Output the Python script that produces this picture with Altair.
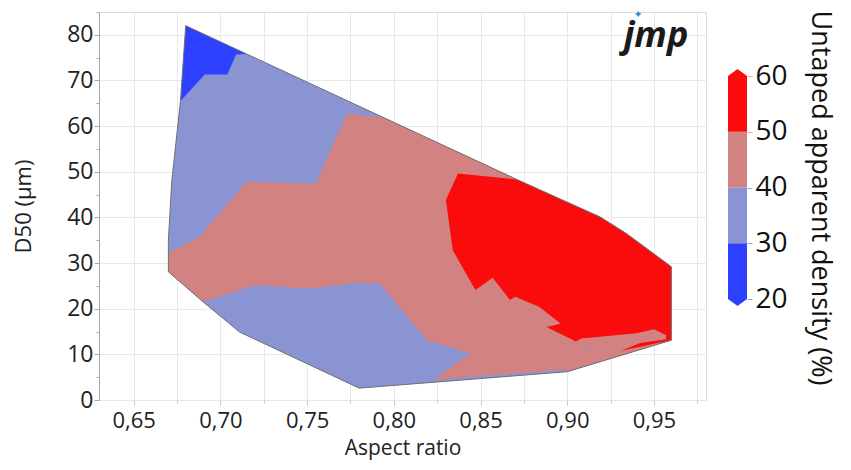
import altair as alt
import pandas as pd

# ---- region outlines (Aspect ratio, D50 in µm) ----
# whole data hull (30-40 band shows where nothing else is on top)
hull_x = [0.680, 0.871, 0.919, 0.934, 0.960, 0.960, 0.900, 0.780, 0.711, 0.690, 0.670, 0.670, 0.672, 0.677]
hull_y = [82.0, 48.3, 40.1, 36.5, 29.2, 13.1, 6.2, 2.6, 14.9, 21.5, 28.1, 35.0, 48.1, 65.6]

# region >= 40
mid_x = [0.794, 0.871, 0.919, 0.934, 0.960, 0.960, 0.900, 0.898, 0.823, 0.844, 0.819, 0.792,
         0.781, 0.750, 0.720, 0.690, 0.670, 0.670, 0.688, 0.715, 0.755, 0.773]
mid_y = [61.9, 48.3, 40.1, 36.5, 29.2, 13.1, 6.2, 6.6, 4.5, 10.2, 13.1, 25.5,
         25.7, 24.4, 25.2, 21.5, 28.1, 32.2, 35.7, 47.8, 47.4, 62.7]

# region >= 50
high_x = [0.837, 0.871, 0.919, 0.934, 0.960, 0.960, 0.931, 0.942, 0.957, 0.957, 0.950, 0.940,
          0.908, 0.905, 0.888, 0.896, 0.895, 0.884, 0.870, 0.867, 0.857, 0.847, 0.834, 0.830]
high_y = [49.6, 48.3, 40.1, 36.5, 29.2, 13.1, 10.8, 12.5, 13.3, 14.2, 15.5, 14.6,
          13.5, 12.8, 16.0, 16.7, 17.1, 20.4, 22.6, 21.9, 26.8, 24.1, 32.8, 43.8]

# region < 30 (top-left corner)
low_x = [0.680, 0.715, 0.709, 0.704, 0.691, 0.677]
low_y = [82.0, 75.8, 75.7, 71.3, 71.3, 65.5]

# small 30-40 speck inside the 40-50 band
speck_x = [0.908, 0.915, 0.912]
speck_y = [10.7, 11.7, 10.9]

# colour bands of the legend
band_lo = [20, 30, 40, 50]
band_hi = [30, 40, 50, 60]
band_edges = [20, 30, 40, 50, 60]
band_colors = ["#2e40ff", "#8b94d2", "#d38282", "#fa0c0c"]

regions = [
    ("hull", hull_x, hull_y, 35),
    ("mid", mid_x, mid_y, 45),
    ("high", high_x, high_y, 55),
    ("low", low_x, low_y, 25),
    ("speck", speck_x, speck_y, 35),
]
rows = []
for name, xs, ys, val in regions:
    for i, (a, b) in enumerate(zip(xs, ys)):
        rows.append({"region": name, "i": i, "ar": a, "d50": b, "density": val})
df = pd.DataFrame(rows)

bands = pd.DataFrame({"lo": band_lo, "hi": band_hi,
                      "mid": [(a + b) / 2 for a, b in zip(band_lo, band_hi)]})
ends_top = pd.DataFrame({"v": [band_edges[-1]]})
ends_bot = pd.DataFrame({"v": [band_edges[0]]})

FONT = "Open Sans"
x_vals = [round(0.65 + 0.025 * k, 3) for k in range(14)]
y_vals = list(range(0, 90, 5))

color_scale = alt.Scale(type="quantize", domain=[band_edges[0], band_edges[-1]],
                        range=band_colors, nice=False, zero=False)

x_enc = alt.X(
    "ar:Q",
    scale=alt.Scale(domain=[0.63, 0.98], nice=False, zero=False),
    axis=alt.Axis(
        title="Aspect ratio",
        values=x_vals,
        labelExpr="round(datum.value*1000) % 50 == 0 ? replace(format(datum.value, '.2f'), '.', ',') : ''",
        tickSize={"condition": {"test": "round(datum.value*1000) % 50 == 0", "value": 5}, "value": 3},
        grid=True,
        gridColor="#e8e8e8",
        domain=False,
        tickColor="#c8c8c8",
        labelFont=FONT, labelFontSize=22, labelColor="#222222", labelPadding=5,
        titleFont=FONT, titleFontSize=21, titleFontWeight="normal", titleColor="#222222",
        titlePadding=6,
    ),
)
y_enc = alt.Y(
    "d50:Q",
    scale=alt.Scale(domain=[0, 85], nice=False, zero=True),
    axis=alt.Axis(
        title="D50 (µm)",
        values=y_vals,
        labelExpr="datum.value % 10 == 0 ? datum.value : ''",
        tickSize={"condition": {"test": "datum.value % 10 == 0", "value": 5}, "value": 3},
        gridOpacity={"condition": {"test": "datum.value % 10 == 0", "value": 1}, "value": 0},
        grid=True,
        gridColor="#e8e8e8",
        domainColor="#a8a8a8",
        tickColor="#a8a8a8",
        labelFont=FONT, labelFontSize=23, labelColor="#222222", labelPadding=1,
        titleFont=FONT, titleFontSize=22, titleFontWeight="normal", titleColor="#222222",
        titlePadding=31,
    ),
)
color_enc = alt.Color("density:Q", scale=color_scale, legend=None)

base = alt.Chart(df).encode(x=x_enc, y=y_enc, order=alt.Order("i:Q"))

layers = []
for name in ["hull", "mid", "high", "low", "speck"]:
    layers.append(
        base.transform_filter(alt.datum.region == name)
        .mark_line(filled=True, interpolate="linear-closed", strokeWidth=0)
        .encode(color=color_enc)
    )
outline = base.transform_filter(alt.datum.region == "hull").mark_line(
    interpolate="linear-closed", color="#707070", strokeWidth=1
)
layers.append(outline)

logo = alt.Chart(pd.DataFrame({"t": ["jmp"]})).mark_text(
    font=FONT, fontSize=36, fontStyle="italic", fontWeight="bold", color="#1a1a1a",
    align="center", baseline="alphabetic"
).encode(x=alt.value(557), y=alt.value(35), text="t:N")
star = alt.Chart(pd.DataFrame({"t": ["✦"]})).mark_text(
    font="DejaVu Sans", fontSize=11, color="#2a8fd8", align="center", baseline="middle"
).encode(x=alt.value(539), y=alt.value(3), text="t:N")
layers += [logo, star]

main = alt.layer(*layers)

# ---- colour bar drawn as its own layer with its own value axis ----
leg_scale = alt.Scale(domain=[band_edges[0], band_edges[-1]], range=[287, 64], nice=False, zero=False)
leg_axis = alt.Axis(
    orient="right", offset=41, values=band_edges, title=None, grid=False, domain=False,
    tickSize=5, tickWidth=1,
    tickColor={"condition": {"test": "datum.value >= 50", "value": "#f5a3a3"},
               "value": "#9aa2ff"},
    labelFont=FONT, labelFontSize=28, labelColor="#111111", labelPadding=3,
)
bar = alt.Chart(bands).mark_rect(strokeWidth=0).encode(
    x=alt.value(629), x2=alt.value(648),
    y=alt.Y("lo:Q", scale=leg_scale, axis=leg_axis), y2="hi:Q",
    color=alt.Color("mid:Q", scale=color_scale, legend=None),
)
tri_up = alt.Chart(ends_top).mark_point(
    shape="M-1,0L0,-0.74L1,0Z", size=361, filled=True, opacity=1, strokeWidth=0
).encode(x=alt.value(638.5), y=alt.Y("v:Q", scale=leg_scale, axis=leg_axis),
         color=alt.Color("v:Q", scale=color_scale, legend=None))
tri_dn = alt.Chart(ends_bot).mark_point(
    shape="M-1,0L0,0.74L1,0Z", size=361, filled=True, opacity=1, strokeWidth=0
).encode(x=alt.value(638.5), y=alt.Y("v:Q", scale=leg_scale, axis=leg_axis),
         color=alt.Color("v:Q", scale=color_scale, legend=None))
legend_layer = alt.layer(bar, tri_up, tri_dn)

chart = alt.layer(main, legend_layer).resolve_scale(y="independent").properties(
    width=607,
    height=388,
    padding={"left": 91, "top": 4, "right": 136, "bottom": 62},
    autosize=alt.AutoSizeParams(type="none"),
    title=alt.TitleParams(
        text="Untaped apparent density (%)", orient="right", anchor="middle", frame="group",
        font=FONT, fontSize=27, fontWeight="normal", color="#111111", offset=19, dx=-8,
    ),
).configure_view(stroke="#dcdcdc")

chart.save("out.html", embed_options={"renderer": "svg", "actions": False})
